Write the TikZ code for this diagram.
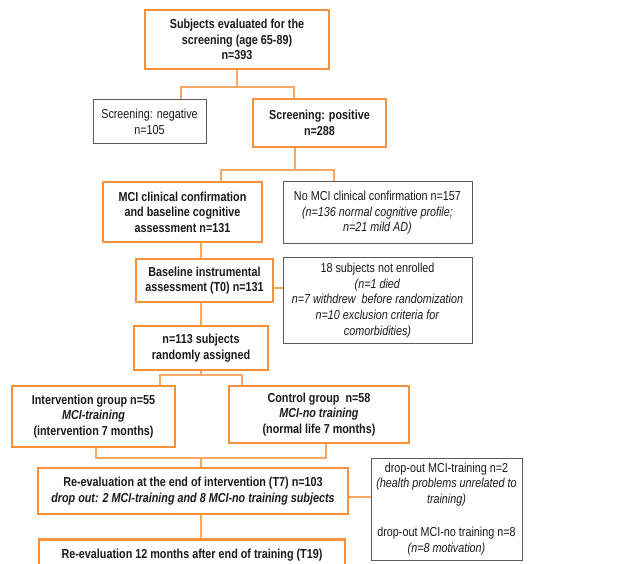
\documentclass[tikz,border=0pt]{standalone}
\usepackage{fontspec}
\setmainfont[FakeStretch=0.83]{Liberation Sans}
\usetikzlibrary{calc}
\begin{document}
\begin{tikzpicture}[x=1pt, y=-1pt, every node/.style={font=\fontsize{13}{15.6}\selectfont, align=center, inner sep=0pt, text=Ink},
  mainbox/.style={draw=Flow, line width=2.6pt, font=\fontsize{13}{15.6}\selectfont\bfseries},
  sidebox/.style={draw=Frame, line width=1pt},
  link/.style={draw=FlowSoft, line width=1.1pt}]
\definecolor{Flow}{HTML}{F7923A}\definecolor{FlowSoft}{HTML}{F7A864}\definecolor{Frame}{HTML}{5A5A5A}\definecolor{Ink}{HTML}{1A1A1A}
\useasboundingbox (0,0) rectangle (643,564); \clip (0,0) rectangle (643,564);
% screening
\node[mainbox, minimum width=184pt, minimum height=59pt] (top) at (237,39.5) {Subjects evaluated for the\\screening (age 65-89)\\n=393};
\node[sidebox, minimum width=113pt, minimum height=44pt] (neg) at (149.5,122) {Screening: negative\\n=105};
\node[mainbox, minimum width=133pt, minimum height=48pt] (pos) at (319.5,123) {Screening: positive\\n=288};
% confirmation and baseline
\node[mainbox, minimum width=159pt, minimum height=60pt] (mci) at (182.5,212) {MCI clinical confirmation\\and baseline cognitive\\assessment n=131};
\node[sidebox, minimum width=189pt, minimum height=62pt] (nomci) at (377.5,213) {No MCI clinical confirmation n=157\\\textit{(n=136 normal cognitive profile;}\\\textit{n=21 mild AD)}};
\node[mainbox, minimum width=137pt, minimum height=43pt] (base) at (204.5,280.5) {Baseline instrumental\\assessment (T0) n=131};
\node[sidebox, minimum width=189pt, minimum height=85pt] (notenr) at (377.5,300.5) {18 subjects not enrolled\\\textit{(n=1 died}\\\textit{n=7 withdrew\ \ before randomization}\\\textit{n=10 exclusion criteria for}\\\textit{comorbidities)}};
\node[mainbox, minimum width=134pt, minimum height=44pt] (rand) at (201,348) {n=113 subjects\\randomly assigned};
% groups
\node[mainbox, minimum width=163pt, minimum height=61pt] (interv) at (93.5,416.5) {Intervention group n=55\\\textit{MCI-training}\\(intervention 7 months)};
\node[mainbox, minimum width=180pt, minimum height=57pt] (ctrl) at (319,414.5) {Control group\ \ n=58\\\textit{MCI-no training}\\(normal life 7 months)};
% follow-up
\node[mainbox, minimum width=310pt, minimum height=46pt] (reeval) at (193,491) {Re-evaluation at the end of intervention (T7) n=103\\\textit{drop out: 2 MCI-training and 8 MCI-no training subjects}};
\node[sidebox, minimum width=151pt, minimum height=102pt] (dropout) at (446.5,509) {drop-out MCI-training n=2\\\textit{(health problems unrelated to}\\\textit{training)}\\[18pt]drop-out MCI-no training n=8\\\textit{(n=8 motivation)}};
\node[mainbox, minimum width=306pt, minimum height=50pt, text depth=22pt, anchor=north] (t19) at (192,538) {Re-evaluation 12 months after end of training (T19)};
% connectors
\coordinate (a1) at (181,87); \coordinate (a2) at (294,87);
\draw[link] (top.south) -- (top.south |- a1); \draw[link] (a1 |- neg.north) -- (a1) -- (a2) -- (a2 |- pos.north);
\coordinate (b1) at (221,170); \coordinate (b2) at (334,170); \coordinate (b0) at (295,170);
\draw[link] (b0 |- pos.south) -- (b0); \draw[link] (b1 |- mci.north) -- (b1) -- (b2) -- (b2 |- nomci.north);
\coordinate (c0) at (201,0);
\draw[link] (c0 |- mci.south) -- (c0 |- base.north); \draw[link] (base.east |- 0,288) -- (notenr.west |- 0,288);
\draw[link] (c0 |- base.south) -- (c0 |- rand.north);
\coordinate (d1) at (160,375); \coordinate (d2) at (242,375);
\draw[link] (c0 |- rand.south) -- (c0 |- d1); \draw[link] (d1 |- interv.north) -- (d1) -- (d2) -- (d2 |- ctrl.north);
\coordinate (e1) at (96,458); \coordinate (e2) at (326,458);
\draw[link] (e1 |- interv.south) -- (e1) -- (e2) -- (e2 |- ctrl.south); \draw[link] (c0 |- e1) -- (c0 |- reeval.north);
\draw[link] (reeval.east |- 0,497) -- (dropout.west |- 0,497);
\draw[link] (c0 |- reeval.south) -- (c0 |- t19.north);
\end{tikzpicture}
\end{document}
